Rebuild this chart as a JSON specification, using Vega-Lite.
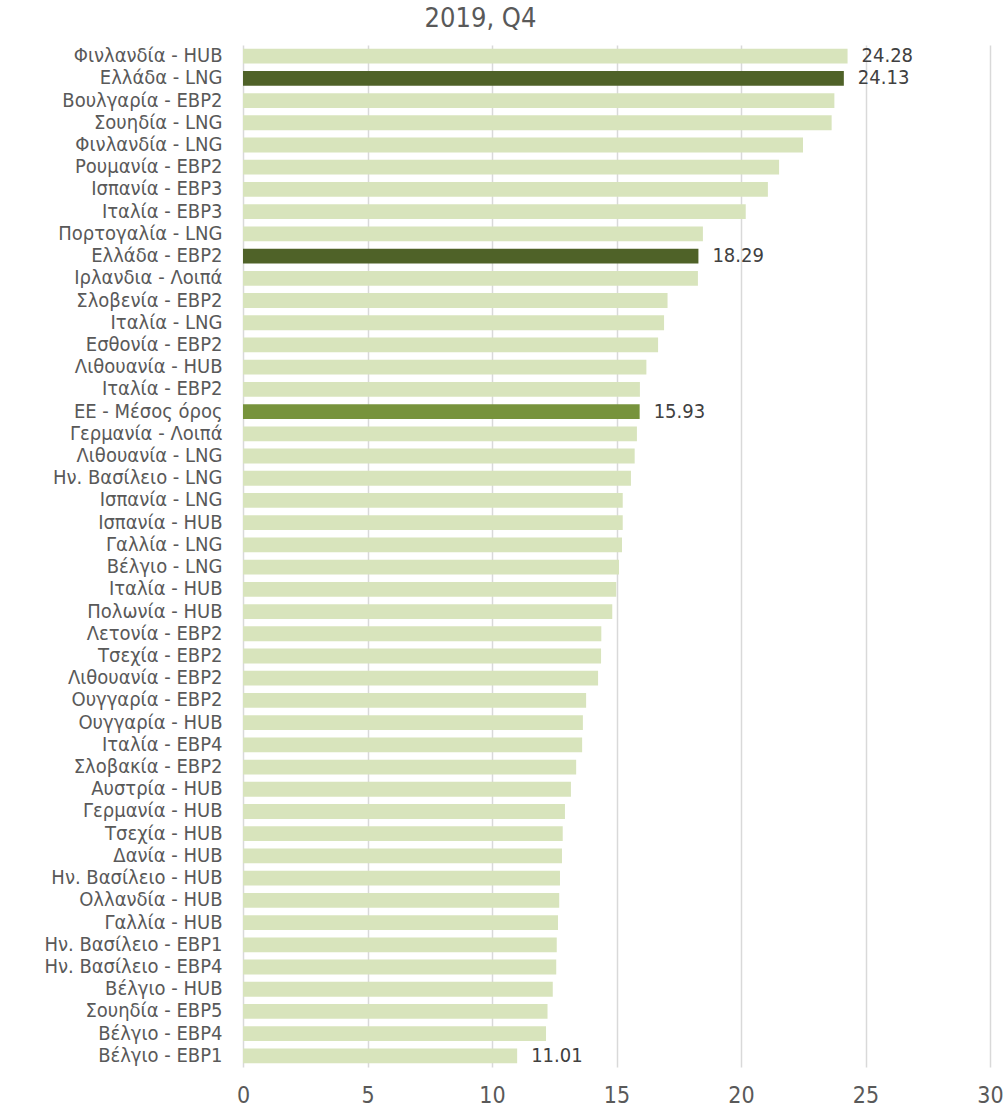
{
  "$schema": "https://vega.github.io/schema/vega-lite/v6.json",
  "width": 747,
  "height": 1022,
  "autosize": {"type": "none"},
  "padding": {"left": 243, "top": 45, "right": 14, "bottom": 43},
  "background": "white",
  "config": {
    "font": "DejaVu Sans Condensed",
    "view": {"stroke": null}
  },
  "title": {
    "text": "2019, Q4",
    "fontSize": 27,
    "fontWeight": "normal",
    "color": "#595959",
    "anchor": "middle",
    "dx": -136,
    "offset": 12
  },
  "data": {
    "values": [
      {"name": "Φινλανδία - HUB", "value": 24.28, "grp": "other", "lab": 1},
      {"name": "Ελλάδα - LNG", "value": 24.13, "grp": "greece", "lab": 1},
      {"name": "Βουλγαρία - EBP2", "value": 23.75, "grp": "other", "lab": 0},
      {"name": "Σουηδία - LNG", "value": 23.64, "grp": "other", "lab": 0},
      {"name": "Φινλανδία - LNG", "value": 22.49, "grp": "other", "lab": 0},
      {"name": "Ρουμανία - EBP2", "value": 21.53, "grp": "other", "lab": 0},
      {"name": "Ισπανία - EBP3", "value": 21.08, "grp": "other", "lab": 0},
      {"name": "Ιταλία - EBP3", "value": 20.19, "grp": "other", "lab": 0},
      {"name": "Πορτογαλία - LNG", "value": 18.47, "grp": "other", "lab": 0},
      {"name": "Ελλάδα - EBP2", "value": 18.29, "grp": "greece", "lab": 1},
      {"name": "Ιρλανδια - Λοιπά", "value": 18.27, "grp": "other", "lab": 0},
      {"name": "Σλοβενία - EBP2", "value": 17.05, "grp": "other", "lab": 0},
      {"name": "Ιταλία - LNG", "value": 16.91, "grp": "other", "lab": 0},
      {"name": "Εσθονία - EBP2", "value": 16.67, "grp": "other", "lab": 0},
      {"name": "Λιθουανία - HUB", "value": 16.2, "grp": "other", "lab": 0},
      {"name": "Ιταλία - EBP2", "value": 15.94, "grp": "other", "lab": 0},
      {"name": "ΕΕ - Μέσος όρος", "value": 15.93, "grp": "eu", "lab": 1},
      {"name": "Γερμανία - Λοιπά", "value": 15.82, "grp": "other", "lab": 0},
      {"name": "Λιθουανία - LNG", "value": 15.73, "grp": "other", "lab": 0},
      {"name": "Ην. Βασίλειο - LNG", "value": 15.58, "grp": "other", "lab": 0},
      {"name": "Ισπανία - LNG", "value": 15.25, "grp": "other", "lab": 0},
      {"name": "Ισπανία - HUB", "value": 15.25, "grp": "other", "lab": 0},
      {"name": "Γαλλία - LNG", "value": 15.22, "grp": "other", "lab": 0},
      {"name": "Βέλγιο - LNG", "value": 15.1, "grp": "other", "lab": 0},
      {"name": "Ιταλία - HUB", "value": 14.99, "grp": "other", "lab": 0},
      {"name": "Πολωνία - HUB", "value": 14.83, "grp": "other", "lab": 0},
      {"name": "Λετονία - EBP2", "value": 14.39, "grp": "other", "lab": 0},
      {"name": "Τσεχία - EBP2", "value": 14.38, "grp": "other", "lab": 0},
      {"name": "Λιθουανία - EBP2", "value": 14.26, "grp": "other", "lab": 0},
      {"name": "Ουγγαρία - EBP2", "value": 13.78, "grp": "other", "lab": 0},
      {"name": "Ουγγαρία - HUB", "value": 13.65, "grp": "other", "lab": 0},
      {"name": "Ιταλία - EBP4", "value": 13.62, "grp": "other", "lab": 0},
      {"name": "Σλοβακία - EBP2", "value": 13.38, "grp": "other", "lab": 0},
      {"name": "Αυστρία - HUB", "value": 13.17, "grp": "other", "lab": 0},
      {"name": "Γερμανία - HUB", "value": 12.93, "grp": "other", "lab": 0},
      {"name": "Τσεχία - HUB", "value": 12.84, "grp": "other", "lab": 0},
      {"name": "Δανία - HUB", "value": 12.81, "grp": "other", "lab": 0},
      {"name": "Ην. Βασίλειο - HUB", "value": 12.73, "grp": "other", "lab": 0},
      {"name": "Ολλανδία - HUB", "value": 12.7, "grp": "other", "lab": 0},
      {"name": "Γαλλία - HUB", "value": 12.65, "grp": "other", "lab": 0},
      {"name": "Ην. Βασίλειο - EBP1", "value": 12.6, "grp": "other", "lab": 0},
      {"name": "Ην. Βασίλειο - EBP4", "value": 12.58, "grp": "other", "lab": 0},
      {"name": "Βέλγιο - HUB", "value": 12.44, "grp": "other", "lab": 0},
      {"name": "Σουηδία - EBP5", "value": 12.23, "grp": "other", "lab": 0},
      {"name": "Βέλγιο - EBP4", "value": 12.17, "grp": "other", "lab": 0},
      {"name": "Βέλγιο - EBP1", "value": 11.01, "grp": "other", "lab": 1}
    ]
  },
  "encoding": {
    "y": {
      "field": "name",
      "type": "nominal",
      "sort": null,
      "scale": {"paddingInner": 0.333, "paddingOuter": 0.167},
      "axis": {
        "title": null,
        "ticks": false,
        "domain": false,
        "grid": false,
        "labelFontSize": 20,
        "labelColor": "#595959",
        "labelPadding": 21,
        "labelLimit": 400
      }
    },
    "x": {
      "field": "value",
      "type": "quantitative",
      "scale": {"domain": [0, 30], "nice": false},
      "axis": {
        "title": null,
        "values": [0, 5, 10, 15, 20, 25, 30],
        "grid": true,
        "gridColor": "#D9D9D9",
        "gridWidth": 1.5,
        "domain": false,
        "ticks": false,
        "labelFontSize": 23,
        "labelColor": "#595959",
        "labelPadding": 17,
        "labelFlush": false
      }
    }
  },
  "layer": [
    {
      "mark": {"type": "bar"},
      "encoding": {
        "color": {
          "field": "grp",
          "type": "nominal",
          "scale": {"domain": ["other", "greece", "eu"], "range": ["#D8E4BC", "#4F6228", "#77933C"]},
          "legend": null
        }
      }
    },
    {
      "transform": [{"filter": "datum.lab == 1"}],
      "mark": {"type": "text", "align": "left", "baseline": "middle", "dx": 14, "fontSize": 20, "color": "#404040"},
      "encoding": {
        "text": {"field": "value", "type": "quantitative", "format": ".2f"}
      }
    }
  ]
}
